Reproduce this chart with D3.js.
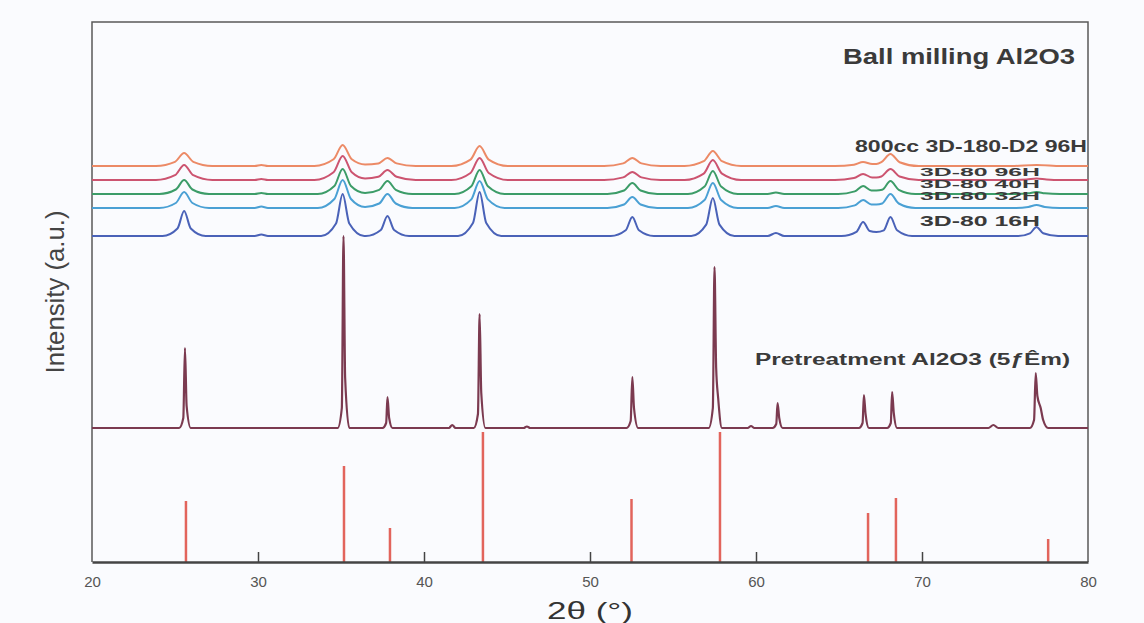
<!DOCTYPE html>
<html>
<head>
<meta charset="utf-8">
<script src="https://cdn.jsdelivr.net/npm/d3@7"></script>
<style>
    body { margin: 0; background: #fafbfe; }
    #chart { width: 1144px; height: 623px; }
    text { font-family: "Liberation Sans", Arial, sans-serif; }
</style>
</head>
<body>
<div id="chart"></div>
<script>
// x ticks
const xTicks = [20, 30, 40, 50, 60, 70, 80];

// reference pattern (sticks)
const stickPos = [25.66, 35.18, 37.95, 43.55, 52.5, 57.83, 66.75, 68.43, 77.6];
const stickHeight = [61, 96, 34, 130, 63, 130, 49, 64, 23];

// pretreatment Al2O3 pattern, [2theta, intensity]
const pretreatment = [
    [20, 0],
    [25.25, 0], [25.5, 10], [25.6, 80], [25.7, 22], [25.95, 0],
    [34.8, 0], [35.05, 20], [35.15, 192], [35.25, 50], [35.5, 0],
    [37.5, 0], [37.72, 5], [37.8, 31], [37.9, 10], [38.1, 0],
    [41.5, 0], [41.7, 3], [41.9, 0],
    [43.0, 0], [43.25, 14], [43.35, 114], [43.45, 35], [43.7, 0],
    [46.0, 0], [46.2, 1.5], [46.4, 0],
    [52.2, 0], [52.45, 7], [52.55, 51], [52.65, 20], [52.9, 0],
    [57.15, 0], [57.4, 20], [57.5, 161], [57.6, 60], [57.72, 30], [57.95, 0],
    [59.5, 0], [59.7, 2], [59.9, 0],
    [61.0, 0], [61.22, 4], [61.3, 25], [61.4, 10], [61.6, 0],
    [66.2, 0], [66.42, 5], [66.5, 33], [66.6, 14], [66.8, 0],
    [67.9, 0], [68.12, 5], [68.2, 36], [68.3, 15], [68.5, 0],
    [74.0, 0], [74.3, 3], [74.6, 0],
    [76.5, 0], [76.75, 8], [76.85, 55], [76.95, 32], [77.15, 20], [77.3, 8], [77.6, 0],
    [80, 0]
];

// ball milled samples
const milled16H = [
    [20, 0],
    [24.25, 0], [25.15, 7.5], [25.55, 25], [25.95, 7.5], [26.85, 0],
    [29.8, 0], [30.2, 1.5], [30.6, 0],
    [33.8, 0], [34.7, 12.5], [35.1, 42], [35.5, 12.5], [36.4, 0],
    [36.5, 0], [37.4, 6], [37.8, 20], [38.2, 6], [39.1, 0],
    [42.05, 0], [42.95, 13], [43.35, 44], [43.75, 13], [44.65, 0],
    [51.25, 0], [52.15, 5.7], [52.55, 19], [52.95, 5.7], [53.85, 0],
    [56.1, 0], [57.0, 11.4], [57.4, 38], [57.8, 11.4], [58.7, 0],
    [60.7, 0], [61.2, 3], [61.7, 0],
    [65.15, 0], [66.05, 4.2], [66.45, 14], [66.85, 5], [67.25, 4], [67.7, 5.7], [68.1, 19], [68.5, 5.7], [69.4, 0],
    [75.8, 0], [76.5, 2.7], [76.9, 9], [77.3, 2.7], [78.2, 0],
    [80, 0]
];
const milled32H = [
    [20, 0],
    [24.05, 0], [25.05, 5], [25.55, 16], [26.05, 5], [27.05, 0],
    [29.8, 0], [30.2, 1.5], [30.6, 0],
    [33.6, 0], [34.6, 9], [35.1, 28], [35.6, 9], [36.45, 1], [37.3, 4.5], [37.8, 14], [38.3, 4.5], [39.3, 0],
    [41.85, 0], [42.85, 8.6], [43.35, 27], [43.85, 8.6], [44.85, 0],
    [51.05, 0], [52.05, 3.5], [52.55, 11], [53.05, 3.5], [54.05, 0],
    [55.9, 0], [56.9, 8], [57.4, 25], [57.9, 8], [58.9, 0],
    [60.7, 0], [61.2, 2], [61.7, 0],
    [64.95, 0], [65.95, 2.6], [66.45, 8], [66.95, 3.5], [67.25, 3.5], [67.6, 4.5], [68.1, 14], [68.6, 4.5], [69.6, 0],
    [75.5, 0], [76.4, 1], [76.9, 3], [77.4, 1], [78.3, 0],
    [80, 0]
];
const milled40H = [
    [20, 0],
    [24.05, 0], [25.05, 4.5], [25.55, 14], [26.05, 4.5], [27.05, 0],
    [29.8, 0], [30.2, 1], [30.6, 0],
    [33.6, 0], [34.6, 8], [35.1, 25], [35.6, 8], [36.45, 1], [37.3, 4.2], [37.8, 13], [38.3, 4.2], [39.3, 0],
    [41.85, 0], [42.85, 7.7], [43.35, 24], [43.85, 7.7], [44.85, 0],
    [51.05, 0], [52.05, 3.5], [52.55, 11], [53.05, 3.5], [54.05, 0],
    [55.9, 0], [56.9, 7.4], [57.4, 23], [57.9, 7.4], [58.9, 0],
    [60.7, 0], [61.2, 1.5], [61.7, 0],
    [64.95, 0], [65.95, 2.6], [66.45, 8], [66.95, 3.5], [67.25, 3.5], [67.6, 4.2], [68.1, 13], [68.6, 4.2], [69.6, 0],
    [75.5, 0], [76.4, 0.7], [76.9, 2], [77.4, 0.7], [78.3, 0],
    [80, 0]
];
const milled96H = [
    [20, 0],
    [23.85, 0], [25.0, 4.8], [25.55, 15], [26.1, 4.8], [27.25, 0],
    [29.8, 0], [30.2, 1], [30.6, 0],
    [33.4, 0], [34.55, 7.7], [35.1, 24], [35.65, 7.7], [36.45, 1.5], [37.25, 3.2], [37.8, 10], [38.35, 3.2], [39.5, 0],
    [41.65, 0], [42.8, 7], [43.35, 22], [43.9, 7], [45.05, 0],
    [50.85, 0], [52.0, 2.6], [52.55, 8], [53.1, 2.6], [54.25, 0],
    [55.7, 0], [56.85, 6.4], [57.4, 20], [57.95, 6.4], [59.1, 0],
    [64.75, 0], [65.9, 1.9], [66.45, 6], [67.0, 2.5], [67.25, 2.5], [67.55, 3.5], [68.1, 11], [68.65, 3.5], [69.8, 0],
    [75.4, 0], [76.3, 0.5], [76.9, 1.5], [77.5, 0.5], [78.4, 0],
    [80, 0]
];
const milled800cc = [
    [20, 0],
    [23.85, 0], [25.0, 4.2], [25.55, 13], [26.1, 4.2], [27.25, 0],
    [29.8, 0], [30.2, 1], [30.6, 0],
    [33.4, 0], [34.55, 6.7], [35.1, 21], [35.65, 6.7], [36.45, 1.5], [37.25, 2.6], [37.8, 8], [38.35, 2.6], [39.5, 0],
    [41.65, 0], [42.8, 6.4], [43.35, 20], [43.9, 6.4], [45.05, 0],
    [50.85, 0], [52.0, 2.6], [52.55, 8], [53.1, 2.6], [54.25, 0],
    [55.7, 0], [56.85, 4.8], [57.4, 15], [57.95, 4.8], [59.1, 0],
    [64.75, 0], [65.9, 1.3], [66.45, 4], [67.0, 2], [67.25, 2], [67.55, 3.8], [68.1, 12], [68.65, 3.8], [69.8, 0],
    [75.4, 0], [76.9, 1], [78.4, 0],
    [80, 0]
];

// series names and stacking offsets (intensity units)
const seriesNames = ["Pretreatment Al2O3 (5ƒÊm)", "3D-80 16H", "3D-80 32H", "3D-80 40H", "3D-80 96H", "800cc 3D-180-D2 96H"];
const seriesData = [pretreatment, milled16H, milled32H, milled40H, milled96H, milled800cc];
const seriesOffset = [134, 326, 354, 368, 382, 396];


class XrdChart {

    constructor(_parentElement) {
        this.parentElement = _parentElement;
        this.colors = ["#7b3a50", "#4a62b8", "#4aa0d4", "#3c9c68", "#cc5470", "#ec8a66"];
        this.stickColor = "#e2645c";
        this.initVis();
    }

    initVis() {
        let vis = this;
        vis.margin = { top: 22, right: 56, bottom: 61, left: 92 };
        vis.width = 1144 - vis.margin.left - vis.margin.right;
        vis.height = 623 - vis.margin.top - vis.margin.bottom;

        vis.svg = d3.select(`#${vis.parentElement}`)
            .append("svg")
            .attr("width", 1144)
            .attr("height", 623)
            .append("g")
            .attr("transform", `translate(${vis.margin.left}, ${vis.margin.top})`);

        vis.x = d3.scaleLinear().domain([20, 80]).range([0, vis.width]);
        vis.y = d3.scaleLinear().domain([0, 540]).range([vis.height, 0]);

        // frame
        vis.svg.append("path")
            .attr("d", `M0,${vis.height} V0 H${vis.width} V${vis.height}`)
            .attr("fill", "none")
            .attr("stroke", "#5a5a5a")
            .attr("stroke-width", 1.5);

        vis.drawSticks();
        vis.drawPatterns();
        vis.drawAxis();
        vis.drawLabels();
    }

    drawSticks() {
        let vis = this;
        vis.svg.selectAll(".stick")
            .data(stickPos.map((p, i) => [p, stickHeight[i]]))
            .enter().append("line")
            .attr("class", "stick")
            .attr("x1", d => vis.x(d[0]))
            .attr("x2", d => vis.x(d[0]))
            .attr("y1", vis.y(0))
            .attr("y2", d => vis.y(d[1]))
            .attr("stroke", vis.stickColor)
            .attr("stroke-width", 2.5);
    }

    drawPatterns() {
        let vis = this;
        // draw top series first so the lower ones sit on top of them
        const order = d3.range(seriesData.length).reverse();
        order.forEach(i => {
            const off = seriesOffset[i];
            const line = d3.line()
                .x(d => vis.x(d[0]))
                .y(d => vis.y(d[1] + off))
                .curve(d3.curveMonotoneX);
            vis.svg.append("path")
                .datum(seriesData[i])
                .attr("class", "pattern")
                .attr("d", line)
                .attr("fill", "none")
                .attr("stroke", vis.colors[i])
                .attr("stroke-width", i === 0 ? 2.2 : 2)
                .attr("stroke-linejoin", "round");
        });
    }

    drawAxis() {
        let vis = this;
        const axis = d3.axisBottom(vis.x)
            .tickValues(xTicks)
            .tickSizeInner(-10)
            .tickSizeOuter(0)
            .tickPadding(14);

        const g = vis.svg.append("g")
            .attr("transform", `translate(0, ${vis.height})`)
            .call(axis);

        g.select(".domain").attr("stroke", "#444").attr("stroke-width", 2.5);
        g.selectAll(".tick line").attr("stroke", "#444").attr("stroke-width", 1.5);
        g.selectAll(".tick")
            .filter(d => d === 20 || d === 80)
            .select("line").remove();
        g.selectAll(".tick text")
            .attr("font-size", 15)
            .attr("fill", "#555")
            .attr("font-family", "Liberation Sans, Arial, sans-serif");
    }

    drawLabels() {
        let vis = this;

        vis.svg.append("text")
            .attr("x", 751)
            .attr("y", 42)
            .attr("font-size", 22)
            .attr("font-weight", "bold")
            .attr("fill", "#3a3a3a")
            .attr("textLength", 232)
            .attr("lengthAdjust", "spacingAndGlyphs")
            .text("Ball milling Al2O3");

        // series labels: [x, baseline y, text length, font size]
        const labelPos = [
            [663, 343, 315, 16],
            [828, 204, 120, 15],
            [828, 177.5, 120, 10.5],
            [828, 165.5, 120, 10.5],
            [828, 153.5, 120, 10.5],
            [763, 130, 232, 16]
        ];
        vis.svg.selectAll(".series-label")
            .data(seriesNames)
            .enter().append("text")
            .attr("class", "series-label")
            .attr("x", (d, i) => labelPos[i][0])
            .attr("y", (d, i) => labelPos[i][1])
            .attr("textLength", (d, i) => labelPos[i][2])
            .attr("lengthAdjust", "spacingAndGlyphs")
            .attr("font-size", (d, i) => labelPos[i][3])
            .attr("font-weight", "bold")
            .attr("fill", "#3a3a3a")
            .text(d => d);

        // axis titles
        vis.svg.append("text")
            .attr("x", vis.x(50))
            .attr("y", vis.height + 57)
            .attr("text-anchor", "middle")
            .attr("font-size", 24)
            .attr("fill", "#333")
            .attr("textLength", 86)
            .attr("lengthAdjust", "spacingAndGlyphs")
            .text("2θ (°)");

        vis.svg.append("text")
            .attr("transform", `translate(${64 - vis.margin.left}, ${292 - vis.margin.top}) rotate(-90)`)
            .attr("text-anchor", "middle")
            .attr("font-size", 26)
            .attr("fill", "#444")
            .attr("textLength", 163)
            .attr("lengthAdjust", "spacingAndGlyphs")
            .text("Intensity (a.u.)");
    }
}

new XrdChart("chart");
</script>
</body>
</html>
